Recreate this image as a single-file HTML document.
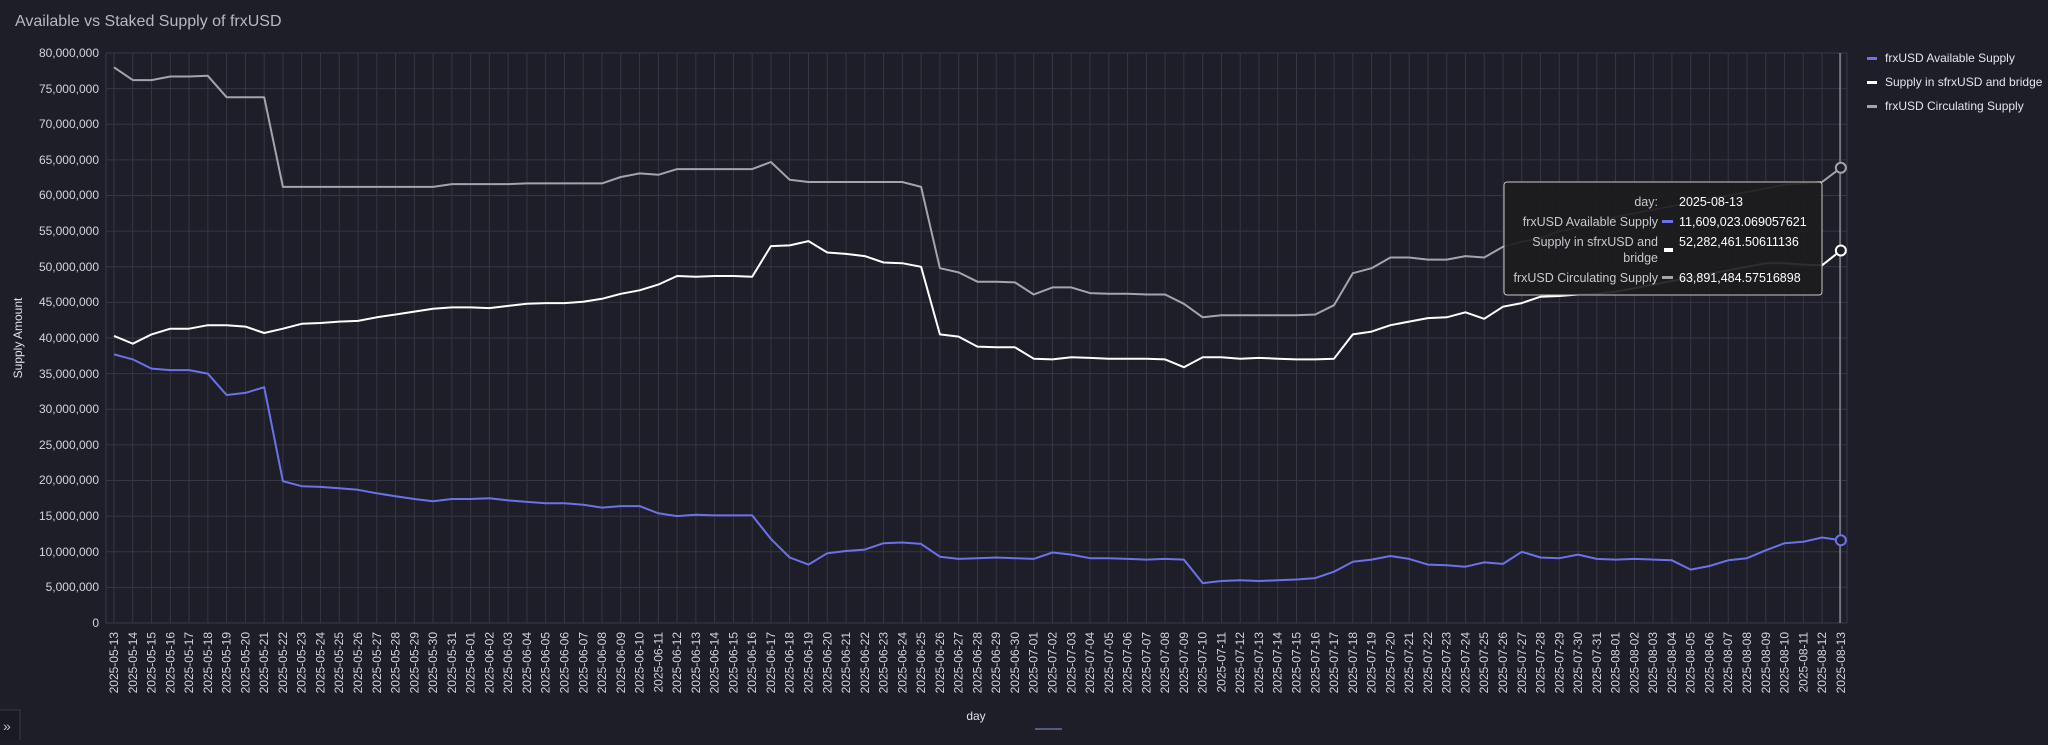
<!DOCTYPE html>
<html><head><meta charset="utf-8">
<style>
html,body{margin:0;padding:0;background:#1e1e28;}
body{width:2048px;height:740px;overflow:hidden;font-family:"Liberation Sans",sans-serif;}
svg text{font-family:"Liberation Sans",sans-serif;}
</style></head>
<body>
<svg id="s" width="2048" height="740" xmlns="http://www.w3.org/2000/svg">
<rect width="2048" height="740" fill="#1e1e28"/>
<text x="15" y="26" font-size="16" fill="#b8b8c0">Available vs Staked Supply of frxUSD</text>
<g id="grid"></g>
<g font-size="12" fill="#d4d4dc" text-anchor="end">
<text x="99" y="57">80,000,000</text><text x="99" y="93">75,000,000</text><text x="99" y="128">70,000,000</text><text x="99" y="164">65,000,000</text><text x="99" y="199">60,000,000</text><text x="99" y="235">55,000,000</text><text x="99" y="271">50,000,000</text><text x="99" y="306">45,000,000</text><text x="99" y="342">40,000,000</text><text x="99" y="378">35,000,000</text><text x="99" y="413">30,000,000</text><text x="99" y="449">25,000,000</text><text x="99" y="484">20,000,000</text><text x="99" y="520">15,000,000</text><text x="99" y="556">10,000,000</text><text x="99" y="591">5,000,000</text><text x="99" y="627">0</text>
</g>
<text transform="translate(22,338) rotate(-90)" font-size="12" fill="#e0e0e8" text-anchor="middle">Supply Amount</text>
<text x="976" y="720" font-size="12" fill="#e0e0e8" text-anchor="middle">day</text>
<line x1="1035" y1="729" x2="1062" y2="729" stroke="#555a80" stroke-width="2"/>
<rect x="-1" y="710" width="21" height="31" fill="#1a1a22" stroke="#3a3a46"/>
<text x="3" y="731" font-size="14" fill="#c0c0c8">»</text>
<g id="xl" font-size="12" fill="#d4d4dc" text-anchor="end">
<text>2025-05-13</text><text>2025-05-14</text><text>2025-05-15</text><text>2025-05-16</text><text>2025-05-17</text><text>2025-05-18</text><text>2025-05-19</text><text>2025-05-20</text><text>2025-05-21</text><text>2025-05-22</text><text>2025-05-23</text><text>2025-05-24</text><text>2025-05-25</text><text>2025-05-26</text><text>2025-05-27</text><text>2025-05-28</text><text>2025-05-29</text><text>2025-05-30</text><text>2025-05-31</text>
<text>2025-06-01</text><text>2025-06-02</text><text>2025-06-03</text><text>2025-06-04</text><text>2025-06-05</text><text>2025-06-06</text><text>2025-06-07</text><text>2025-06-08</text><text>2025-06-09</text><text>2025-06-10</text><text>2025-06-11</text><text>2025-06-12</text><text>2025-06-13</text><text>2025-06-14</text><text>2025-06-15</text><text>2025-06-16</text><text>2025-06-17</text><text>2025-06-18</text><text>2025-06-19</text><text>2025-06-20</text><text>2025-06-21</text><text>2025-06-22</text><text>2025-06-23</text><text>2025-06-24</text><text>2025-06-25</text><text>2025-06-26</text><text>2025-06-27</text><text>2025-06-28</text><text>2025-06-29</text><text>2025-06-30</text>
<text>2025-07-01</text><text>2025-07-02</text><text>2025-07-03</text><text>2025-07-04</text><text>2025-07-05</text><text>2025-07-06</text><text>2025-07-07</text><text>2025-07-08</text><text>2025-07-09</text><text>2025-07-10</text><text>2025-07-11</text><text>2025-07-12</text><text>2025-07-13</text><text>2025-07-14</text><text>2025-07-15</text><text>2025-07-16</text><text>2025-07-17</text><text>2025-07-18</text><text>2025-07-19</text><text>2025-07-20</text><text>2025-07-21</text><text>2025-07-22</text><text>2025-07-23</text><text>2025-07-24</text><text>2025-07-25</text><text>2025-07-26</text><text>2025-07-27</text><text>2025-07-28</text><text>2025-07-29</text><text>2025-07-30</text><text>2025-07-31</text>
<text>2025-08-01</text><text>2025-08-02</text><text>2025-08-03</text><text>2025-08-04</text><text>2025-08-05</text><text>2025-08-06</text><text>2025-08-07</text><text>2025-08-08</text><text>2025-08-09</text><text>2025-08-10</text><text>2025-08-11</text><text>2025-08-12</text><text>2025-08-13</text>
</g>
<g id="lines"></g>
<line x1="1840" y1="53" x2="1840" y2="623" stroke="#b0b0b8" stroke-width="1"/>
<g id="dots"></g>
<g font-size="12" fill="#e4e4ec">
<rect x="1867" y="57" width="10" height="3" fill="#6b72e8"/><text x="1885" y="62">frxUSD Available Supply</text>
<rect x="1867" y="81" width="10" height="3" fill="#ffffff"/><text x="1885" y="86">Supply in sfrxUSD and bridge</text>
<rect x="1867" y="105" width="10" height="3" fill="#a4a4ac"/><text x="1885" y="110">frxUSD Circulating Supply</text>
</g>
<g>
<rect x="1504" y="182" width="318" height="113" rx="3" fill="rgba(28,28,30,0.92)" stroke="#c8c8c8" stroke-width="1"/>
<g font-size="12.5" fill="#c8c8d0" text-anchor="end">
<text x="1658" y="206">day:</text>
<text x="1658" y="226">frxUSD Available Supply</text>
<text x="1658" y="246">Supply in sfrxUSD and</text>
<text x="1658" y="262">bridge</text>
<text x="1658" y="282">frxUSD Circulating Supply</text>
</g>
<rect x="1662" y="220" width="11" height="3" fill="#6b72e8"/>
<rect x="1664" y="248" width="9" height="4" fill="#ffffff"/>
<rect x="1662" y="276" width="11" height="3" fill="#a4a4ac"/>
<g font-size="12.5" fill="#ffffff">
<text x="1679" y="206">2025-08-13</text>
<text x="1679" y="226">11,609,023.069057621</text>
<text x="1679" y="246">52,282,461.50611136</text>
<text x="1679" y="282">63,891,484.57516898</text>
</g>
</g>
</svg>
<script>
var x0=114,dx=18.77,y0=623,k=7.125;
function X(i){return x0+i*dx}function Y(v){return y0-v*k}
var g=document.getElementById('grid'),h='';
for(var j=0;j<=16;j++){var y=53+j*35.625;h+='<line x1="106" x2="1847" y1="'+y+'" y2="'+y+'" stroke="#363644" stroke-width="1"/>';}
for(var i=0;i<93;i++){h+='<line y1="53" y2="623" x1="'+X(i)+'" x2="'+X(i)+'" stroke="#363644" stroke-width="1"/>';}
h+='<rect x="106" y="53" width="1741" height="570" fill="none" stroke="#3a3a48"/>';
g.innerHTML=h;
var t=document.getElementById('xl').children;
for(var i=0;i<t.length;i++){t[i].setAttribute('transform','translate('+(X(i)+4)+',632) rotate(-90)');}
var A=[37.7,37.0,35.7,35.5,35.5,35.0,32.0,32.3,33.1,19.9,19.2,19.1,18.9,18.7,18.2,17.8,17.4,17.1,17.4,
17.4,17.5,17.2,17.0,16.8,16.8,16.6,16.2,16.4,16.4,15.4,15.0,15.2,15.1,15.1,15.1,11.8,9.2,8.2,9.8,10.1,10.3,11.2,11.3,11.1,9.3,9.0,9.1,9.2,9.1,
9.0,9.9,9.6,9.1,9.1,9.0,8.9,9.0,8.9,5.6,5.9,6.0,5.9,6.0,6.1,6.3,7.2,8.6,8.9,9.4,9.0,8.2,8.1,7.9,8.5,8.3,10.0,9.2,9.1,9.6,9.0,
8.9,9.0,8.9,8.8,7.5,8.0,8.8,9.1,10.2,11.2,11.4,12.0,11.61];
var W=[40.3,39.2,40.5,41.3,41.3,41.8,41.8,41.6,40.7,41.3,42.0,42.1,42.3,42.4,42.9,43.3,43.7,44.1,44.3,
44.3,44.2,44.5,44.8,44.9,44.9,45.1,45.5,46.2,46.7,47.5,48.7,48.6,48.7,48.7,48.6,52.9,53.0,53.6,52.0,51.8,51.5,50.6,50.5,50.0,40.5,40.2,38.8,38.7,38.7,
37.1,37.0,37.3,37.2,37.1,37.1,37.1,37.0,35.9,37.3,37.3,37.1,37.2,37.1,37.0,37.0,37.1,40.5,40.9,41.8,42.3,42.8,42.9,43.6,42.7,44.4,44.9,45.8,45.9,46.1,46.2,
46.5,47.0,47.5,48.0,48.5,49.0,49.5,50.0,50.5,50.5,50.3,50.2,52.28];
var C=[78.0,76.2,76.2,76.7,76.7,76.8,73.8,73.8,73.8,61.2,61.2,61.2,61.2,61.2,61.2,61.2,61.2,61.2,61.6,
61.6,61.6,61.6,61.7,61.7,61.7,61.7,61.7,62.6,63.1,62.9,63.7,63.7,63.7,63.7,63.7,64.7,62.2,61.9,61.9,61.9,61.9,61.9,61.9,61.2,49.8,49.2,47.9,47.9,47.8,
46.1,47.1,47.1,46.3,46.2,46.2,46.1,46.1,44.8,42.9,43.2,43.2,43.2,43.2,43.2,43.3,44.6,49.1,49.8,51.3,51.3,51.0,51.0,51.5,51.3,52.8,53.5,54.0,55.0,55.5,56.0,
57.0,57.5,58.0,58.5,59.0,59.5,60.0,60.5,61.0,61.5,61.7,61.9,63.89];
function pl(d,c){var p=d.map(function(v,i){return X(i).toFixed(1)+','+Y(v).toFixed(1)}).join(' ');
return '<polyline points="'+p+'" fill="none" stroke="'+c+'" stroke-width="2" stroke-linejoin="round"/>';}
document.getElementById('lines').innerHTML=pl(C,'#a4a4ac')+pl(W,'#ffffff')+pl(A,'#6b72e8');
var d='';[[A,'#6b72e8'],[W,'#ffffff'],[C,'#a4a4ac']].forEach(function(s){d+='<circle cx="'+X(92)+'" cy="'+Y(s[0][92])+'" r="5" fill="#1e1e28" stroke="'+s[1]+'" stroke-width="2"/>';});
document.getElementById('dots').innerHTML=d;
</script>
</body></html>
